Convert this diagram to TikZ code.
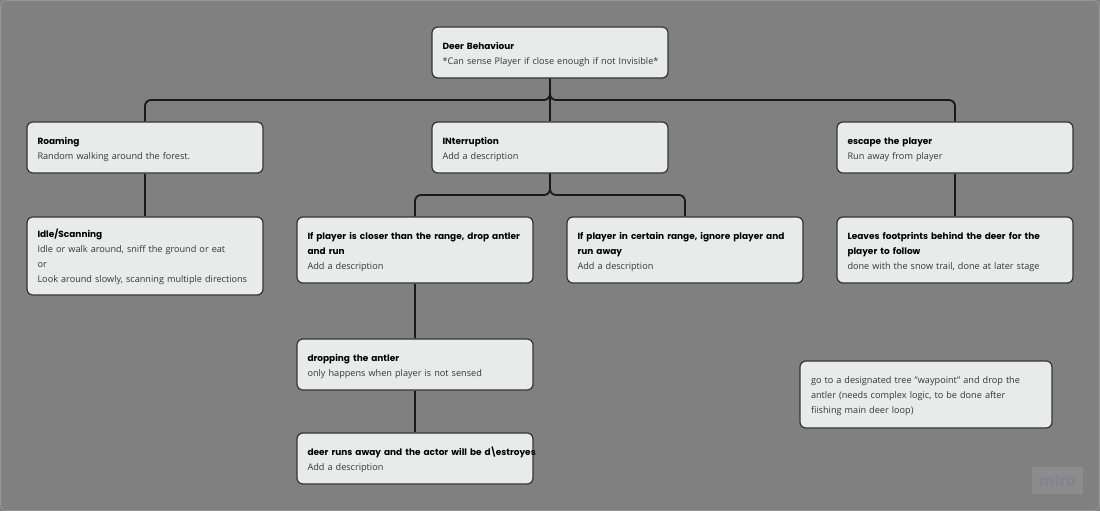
\documentclass[tikz,border=0pt]{standalone}
\usepackage{fontspec}
\setmainfont{Open Sans}
\newfontfamily\titlefont{Poppins}
\usetikzlibrary{calc}
\definecolor{boardgray}{RGB}{128,128,128}
\definecolor{boardedge}{RGB}{150,150,150}
\definecolor{boxfill}{RGB}{233,235,234}
\definecolor{boxline}{RGB}{50,52,56}
\definecolor{bodytext}{RGB}{52,54,56}
\definecolor{badgefill}{RGB}{140,140,140}
\definecolor{badgetext}{RGB}{130,130,146}
\newcommand{\firstline}{\rule{0pt}{6pt}}
\newcommand{\boxtitle}[1]{{\titlefont\fontsize{5.1}{8.5}\selectfont\bfseries\color{black}\firstline #1}}
\tikzstyle{block} = [rectangle, draw=boxline, line width=0.7pt, fill=boxfill, rounded corners=0.12cm, minimum height=1.02cm, minimum width=4.72cm, text width=4.3cm, align=left, text=bodytext, font=\fontsize{5.2}{8.5}\selectfont]
\tikzstyle{link} = [draw=black!90, line width=1.05pt, rounded corners=0.12cm]

\begin{document}
\begin{tikzpicture}

        \path[use as bounding box] (0, 0) rectangle (22, -10.22);
        \fill[color=boardgray] (0, 0) rectangle (22, -10.22);
        \draw[color=boardedge, line width=0.5pt, rounded corners=0.12cm] (0.01, -0.01) rectangle (21.99, -10.21);

        \coordinate (DeerFork) at (11, -2);
        \coordinate (InterruptFork) at (11, -3.9);

        \node[block] at (11, -1.05) (Deer) {\boxtitle{Deer Behaviour}\\[0pt]\mbox{*Can sense Player if close enough if not Invisible*}};

        \node[block] at (2.9, -2.95) (Roaming) {\boxtitle{Roaming}\\Random walking around the forest.};
        \node[block] at (11, -2.95) (Interruption) {\boxtitle{INterruption}\\Add a description};
        \node[block] at (19.1, -2.95) (Escape) {\boxtitle{escape the player}\\Run away from player};

        \node[block, minimum height=1.56cm] at (2.9, -5.12) (Idle) {\boxtitle{Idle/Scanning}\\Idle or walk around, sniff the ground or eat\\or\\Look around slowly, scanning multiple directions};
        \node[block, minimum height=1.32cm] at (8.3, -5) (Closer) {\boxtitle{\mbox{If player is closer than the range, drop antler}\\and run}\\Add a description};
        \node[block, minimum height=1.32cm] at (13.7, -5) (Certain) {\boxtitle{\mbox{If player in certain range, ignore player and}\\run away}\\Add a description};
        \node[block, minimum height=1.32cm] at (19.1, -5) (Footprints) {\boxtitle{\mbox{Leaves footprints behind the deer for the}\\player to follow}\\done with the snow trail, done at later stage};

        \node[block] at (8.3, -7.29) (Dropping) {\boxtitle{dropping the antler}\\only happens when player is not sensed};
        \node[block] at (8.3, -9.17) (Runs) {\boxtitle{\mbox{deer runs away and the actor will be d\kern-.12em\textbackslash\kern-.12em estroyes}}\\Add a description};

        \node[block, minimum width=5.04cm, minimum height=1.34cm, text width=4.6cm] at (18.52, -7.89) (Waypoint) {\firstline go to a designated tree "waypoint" and drop the\\antler (needs complex logic, to be done after\\fiishing main deer loop)};

        \node[rectangle, fill=badgefill, minimum width=1.02cm, minimum height=0.54cm, text=badgetext, font=\bfseries\fontsize{9}{9}\selectfont] at (21.15, -9.61) (Badge) {miro};

        \draw[link] (Deer.south) -- (DeerFork) -| (Roaming.north);
        \draw[link] (Deer.south) -- (DeerFork) -| (Escape.north);
        \draw[link] (Deer.south) -- (Interruption.north);

        \draw[link] (Interruption.south) -- (InterruptFork) -| (Closer.north);
        \draw[link] (Interruption.south) -- (InterruptFork) -| (Certain.north);

        \draw[link] (Roaming.south) -- (Idle.north);
        \draw[link] (Escape.south) -- (Footprints.north);
        \draw[link] (Closer.south) -- (Dropping.north);
        \draw[link] (Dropping.south) -- (Runs.north);

\end{tikzpicture}
\end{document}
